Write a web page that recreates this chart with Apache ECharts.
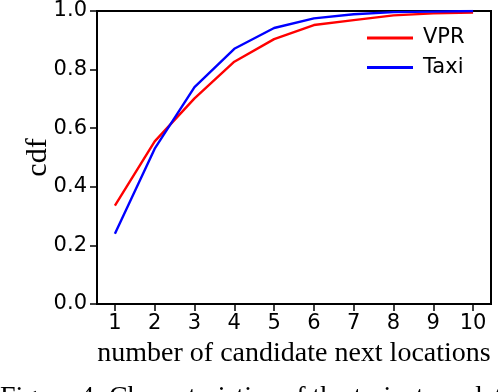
<!DOCTYPE html>
<html>
<head>
<meta charset="utf-8">
<script src="https://cdn.jsdelivr.net/npm/echarts@6/dist/echarts.min.js"></script>
<style>html,body{margin:0;padding:0;background:#fff}#c{width:498px;height:392px}</style>
</head>
<body>
<div id="c"></div>
<script>
var xValues = [1, 2, 3, 4, 5, 6, 7, 8, 9, 10];
var vprValues = [0.336, 0.555, 0.702, 0.827, 0.904, 0.952, 0.969, 0.985, 0.992, 0.995];
var taxiValues = [0.240, 0.530, 0.740, 0.871, 0.942, 0.975, 0.989, 0.996, 0.998, 1.0];
var xTicks = [1, 2, 3, 4, 5, 6, 7, 8, 9, 10];
var yTicks = [0, 0.2, 0.4, 0.6, 0.8, 1.0];
var seriesNames = ['VPR', 'Taxi'];
var xTitle = 'number of candidate next locations';
var yTitle = 'cdf';
var caption = 'Figure 4: Characteristics of the trajectory data';

function pairs(xs, ys) { return xs.map(function (x, i) { return [x, ys[i]]; }); }

var chart = echarts.init(document.getElementById('c'), null, {renderer: 'canvas'});
var tickFont = {fontFamily: 'DejaVu Sans', fontSize: 21, color: '#000'};
chart.setOption({
  animation: false,
  backgroundColor: '#fff',
  grid: {left: 97, top: 11, width: 394, height: 293, show: true, borderColor: '#000', borderWidth: 2, backgroundColor: 'transparent'},
  xAxis: {
    type: 'value', min: 0.55, max: 10.45,
    name: xTitle, nameLocation: 'middle', nameGap: 36, nameMoveOverlap: false,
    nameTextStyle: {fontFamily: 'Liberation Serif', fontSize: 28, color: '#000'},
    axisLine: {show: true, lineStyle: {color: '#000', width: 2}},
    axisTick: {show: true, customValues: xTicks, length: 7, lineStyle: {color: '#000', width: 1.5}},
    axisLabel: Object.assign({customValues: xTicks, margin: 9, formatter: function (v) { return String(Math.round(v)); }}, tickFont),
    splitLine: {show: false}
  },
  yAxis: {
    type: 'value', min: 0, max: 1, interval: 0.2,
    name: yTitle, nameLocation: 'middle', nameGap: 44, nameMoveOverlap: false,
    nameTextStyle: {fontFamily: 'Liberation Serif', fontSize: 30, color: '#000'},
    axisLine: {show: true, lineStyle: {color: '#000', width: 2}},
    axisTick: {show: true, length: 7, lineStyle: {color: '#000', width: 1.5}},
    axisLabel: Object.assign({margin: 10, formatter: function (v) { return v.toFixed(1); }}, tickFont),
    splitLine: {show: false}
  },
  legend: {
    orient: 'vertical', left: 367, top: 27, itemWidth: 46, itemHeight: 3, itemGap: 7.5,
    icon: 'rect', padding: 0,
    textStyle: {fontFamily: 'DejaVu Sans', fontSize: 21, color: '#000', lineHeight: 22, padding: [0, 0, 0, 5]},
    data: seriesNames
  },
  series: [
    {name: seriesNames[0], type: 'line', data: pairs(xValues, vprValues), showSymbol: false, symbol: 'none',
     lineStyle: {color: '#ff0000', width: 2.4}, itemStyle: {color: '#ff0000'}},
    {name: seriesNames[1], type: 'line', data: pairs(xValues, taxiValues), showSymbol: false, symbol: 'none',
     lineStyle: {color: '#0000ff', width: 2.4}, itemStyle: {color: '#0000ff'}}
  ],
  graphic: [
    {type: 'text', left: 0, top: 384, style: {text: caption, fontFamily: 'Liberation Serif', fontSize: 28, fill: '#000'}}
  ]
});
</script>
</body>
</html>
